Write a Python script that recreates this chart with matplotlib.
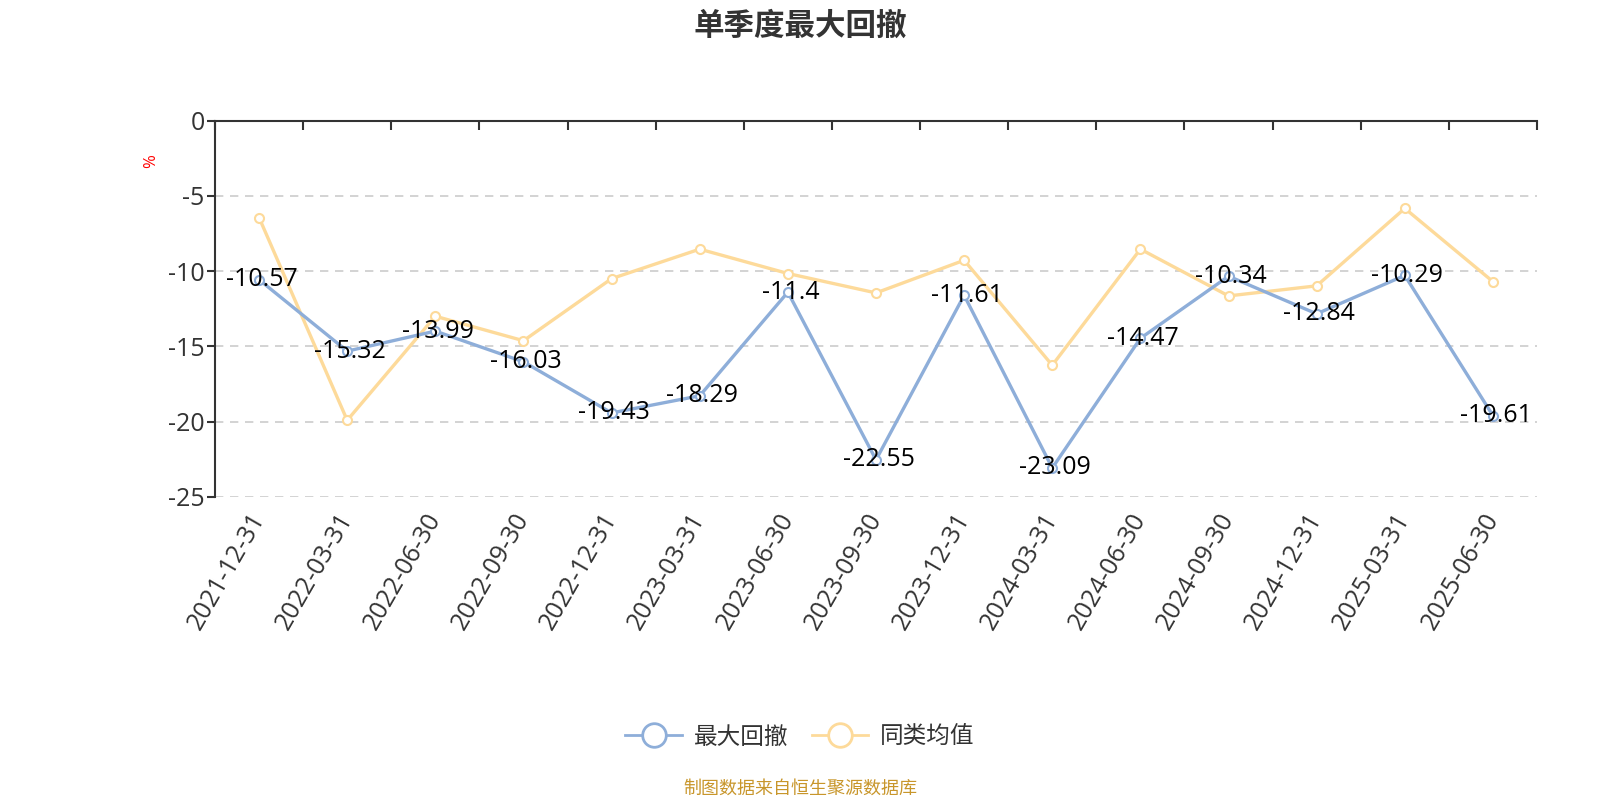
import numpy as np
import matplotlib
matplotlib.use('Agg')
import matplotlib.pyplot as plt
from matplotlib.lines import Line2D

plt.rcParams['font.family'] = ['Noto Sans CJK SC', 'DejaVu Sans']
plt.rcParams['axes.unicode_minus'] = False
num_font = ['Open Sans', 'Noto Sans CJK SC']

dates = ['2021-12-31', '2022-03-31', '2022-06-30', '2022-09-30', '2022-12-31',
         '2023-03-31', '2023-06-30', '2023-09-30', '2023-12-31', '2024-03-31',
         '2024-06-30', '2024-09-30', '2024-12-31', '2025-03-31', '2025-06-30']
max_dd = [-10.57, -15.32, -13.99, -16.03, -19.43, -18.29, -11.4, -22.55, -11.61,
          -23.09, -14.47, -10.34, -12.84, -10.29, -19.61]
peer_avg = [-6.44, -19.92, -13.0, -14.63, -10.5, -8.54, -10.16, -11.45, -9.28,
            -16.26, -8.54, -11.65, -10.98, -5.83, -10.7]

blue = '#8eaed9'
yellow = '#fdda9a'
text_c = '#333333'

fig = plt.figure(figsize=(16, 8), dpi=100)
ax = fig.add_axes([215/1600, 1-496.7/800, (1537-215)/1600, (496.7-120.7)/800])

x = np.arange(len(dates))
ax.plot(x, max_dd, color=blue, lw=2.4, marker='o', ms=6.5, mfc='white',
        mec=blue, mew=1.5, zorder=3)
ax.plot(x, peer_avg, color=yellow, lw=2.4, marker='o', ms=6.5, mfc='white',
        mec=yellow, mew=1.5, zorder=2)

for xi, v in zip(x, max_dd):
    ax.text(xi + 0.03, v, '%g' % v, ha='center', va='center', fontsize=18,
            family=num_font, color='black', zorder=5)

ax.set_xlim(-0.5, len(dates) - 0.5)
ax.set_ylim(-25, 0)
ax.set_yticks([0, -5, -10, -15, -20, -25])
ax.set_yticklabels(['0', '-5', '-10', '-15', '-20', '-25'], family=num_font)
for yv in [-5, -10, -15, -20, -25]:
    ax.axhline(yv, color='#cccccc', lw=1.2, ls=(0, (5, 4)), zorder=1)

ax.set_xticks(x)
ax.set_xticklabels(dates, rotation=60, ha='right', va='center',
                   rotation_mode='anchor', fontsize=18, color=text_c,
                   family=num_font)
ax.tick_params(axis='x', which='major', length=0, pad=13)
ax.set_xticks(np.arange(-0.5, len(dates)), minor=True)
ax.tick_params(axis='x', which='minor', top=True, bottom=False, direction='in',
               length=6.5, width=1.5, color=text_c)
ax.tick_params(axis='y', length=6, width=1.5, color=text_c, labelsize=18,
               labelcolor=text_c, pad=1.5)

for s in ['right', 'bottom']:
    ax.spines[s].set_visible(False)
for s in ['left', 'top']:
    ax.spines[s].set_color(text_c)
    ax.spines[s].set_linewidth(1.5)

fig.text(151/1600, 1-161/800, '%', color='red', fontsize=12, rotation=90,
         ha='center', va='center', family=num_font)

fig.text(0.5, 1-26/800, '单季度最大回撤', ha='center', va='center',
         fontsize=22, fontweight='bold', color=text_c)

handles = [Line2D([], [], color=blue, lw=2, marker='o', ms=17, mfc='white',
                  mec=blue, mew=2),
           Line2D([], [], color=yellow, lw=2, marker='o', ms=17, mfc='white',
                  mec=yellow, mew=2)]
fig.legend(handles, ['最大回撤', '同类均值'], loc='center',
           bbox_to_anchor=(0.5, 1-737/800), ncol=2, frameon=False,
           fontsize=17, handlelength=2.4, columnspacing=1.0, handletextpad=0.5,
           labelcolor=text_c)

fig.text(0.5, 1-789/800, '制图数据来自恒生聚源数据库', ha='center',
         va='center', fontsize=13, color='#c8962b')

fig.savefig('out.png', dpi=100)
